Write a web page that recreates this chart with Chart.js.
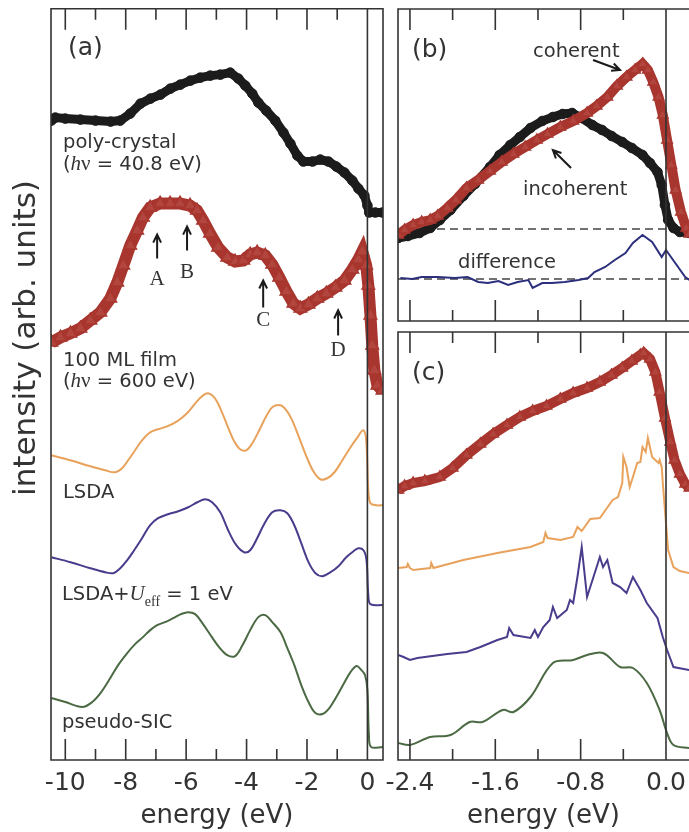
<!DOCTYPE html>
<html>
<head>
<meta charset="utf-8">
<script src="https://cdn.jsdelivr.net/npm/chart.js@4.4.1/dist/chart.umd.min.js"></script>
<style>
  html, body { margin: 0; padding: 0; background: #fff; overflow: hidden; }
  #wrap { position: relative; width: 689px; height: 832px; overflow: hidden; }
  canvas { position: absolute; }
</style>
</head>
<body>
<div id="wrap">
  <canvas id="panelA" width="395" height="832" style="left:0;top:0"></canvas>
  <canvas id="panelB" width="360" height="330" style="left:360px;top:0"></canvas>
  <canvas id="panelC" width="360" height="510" style="left:360px;top:322px"></canvas>
</div>
<script>
// ---- panel (a): valence band, wide range ----
const ticksA = [-10, -8, -6, -4, -2, 0];
const minorA = [-9, -7, -5, -3, -1];

const polyE = [-10.46, -10.33, -10.0, -9.5, -9.0, -8.5, -8.18, -7.85, -7.51, -7.18, -6.85, -6.52, -6.19, -5.86, -5.53, -5.2, -4.87, -4.54, -4.27, -4.04, -3.81, -3.61, -3.35, -3.05, -2.78, -2.55, -2.32, -2.12, -1.82, -1.56, -1.29, -1.03, -0.76, -0.5, -0.3, -0.1, 0.0, 0.06, 0.26, 0.5];
const polyI = [640, 643, 642, 641, 640, 639, 640, 647, 657, 662, 666, 672, 676, 680, 683, 685, 686, 688, 682, 675, 667, 658, 650, 640, 628, 617, 605, 599, 599, 601, 599, 594, 588, 580, 572, 565, 555, 548, 548, 548];

const filmE = [-10.46, -10.16, -9.83, -9.5, -9.17, -8.84, -8.51, -8.28, -8.08, -7.85, -7.62, -7.43, -7.19, -6.86, -6.53, -6.2, -5.87, -5.64, -5.44, -5.21, -4.94, -4.64, -4.38, -4.11, -3.88, -3.65, -3.38, -3.15, -2.92, -2.68, -2.45, -2.22, -1.95, -1.66, -1.36, -1.06, -0.76, -0.5, -0.3, -0.17, -0.04, 0.03, 0.1, 0.16, 0.23, 0.33, 0.5];
const filmI = [418, 423, 427, 432, 440, 448, 462, 478, 495, 515, 530, 543, 553, 557, 557, 557, 555, 550, 540, 527, 513, 503, 499, 500, 506, 508, 505, 496, 483, 469, 457, 452, 456, 462, 467, 473, 480, 491, 501, 509, 495, 475, 445, 415, 390, 375, 370];

const lsdaE = [-10.46, -9.83, -9.17, -8.68, -8.35, -8.12, -7.92, -7.69, -7.46, -7.19, -6.93, -6.63, -6.3, -5.97, -5.67, -5.44, -5.27, -5.07, -4.87, -4.64, -4.41, -4.21, -4.01, -3.81, -3.58, -3.35, -3.15, -2.88, -2.68, -2.49, -2.25, -2.02, -1.79, -1.56, -1.33, -1.09, -0.83, -0.56, -0.33, -0.14, -0.04, 0.03, 0.1, 0.29, 0.52];
const lsdaI = [305, 300, 294, 290, 288, 292, 300, 310, 320, 328, 331, 334, 339, 347, 358, 365, 367, 363, 352, 335, 319, 311, 310, 317, 330, 344, 353, 355, 350, 340, 322, 304, 289, 281, 282, 288, 300, 313, 323, 330, 320, 270, 257, 255, 255];

const ldauE = [-10.46, -9.83, -9.17, -8.68, -8.41, -8.18, -7.95, -7.72, -7.46, -7.19, -6.93, -6.6, -6.26, -5.93, -5.63, -5.37, -5.14, -4.87, -4.61, -4.34, -4.08, -3.88, -3.65, -3.42, -3.15, -2.88, -2.65, -2.42, -2.19, -1.95, -1.72, -1.49, -1.22, -0.96, -0.7, -0.46, -0.3, -0.13, -0.03, 0.03, 0.1, 0.52];
const ldauI = [203, 198, 192, 188, 187, 192, 200, 210, 222, 235, 242, 246, 249, 253, 258, 261, 258, 248, 230, 215, 208, 210, 222, 236, 248, 250, 247, 235, 217, 198, 187, 184, 188, 194, 203, 209, 212, 210, 200, 165, 156, 155];

const sicE = [-10.46, -10.0, -9.44, -9.11, -8.81, -8.51, -8.25, -7.95, -7.69, -7.43, -7.19, -6.96, -6.7, -6.43, -6.17, -5.94, -5.7, -5.44, -5.17, -4.91, -4.64, -4.38, -4.15, -3.88, -3.61, -3.38, -3.15, -2.88, -2.65, -2.42, -2.19, -1.95, -1.72, -1.49, -1.26, -1.03, -0.79, -0.56, -0.36, -0.2, -0.08, 0.0, 0.05, 0.12, 0.52];
const sicI = [62, 58, 53, 58, 68, 82, 95, 107, 116, 123, 130, 135, 138, 142, 146, 148, 146, 136, 124, 113, 105, 104, 114, 130, 143, 145, 138, 128, 112, 95, 75, 58, 47, 46, 52, 63, 76, 88, 94, 90, 85, 70, 25, 13, 13];

// ---- panels (b) and (c): near the Fermi level ----
const ticksBC = [-2.4, -1.6, -0.8, 0.0];
const minorBC = [-2.0, -1.2, -0.4];

const cohE = [-2.51, -2.45, -2.37, -2.29, -2.21, -2.14, -2.05, -1.97, -1.87, -1.76, -1.65, -1.54, -1.43, -1.32, -1.21, -1.11, -0.99, -0.87, -0.74, -0.65, -0.55, -0.46, -0.37, -0.29, -0.22, -0.17, -0.12, -0.07, -0.03, 0.01, 0.05, 0.09, 0.14, 0.19, 0.22];
const cohI = [86, 91, 96, 99, 101, 105, 113, 121, 133, 141, 150, 159, 167, 174, 181, 187, 194, 200, 208, 215, 224, 235, 244, 251, 257, 251, 239, 224, 206, 181, 156, 131, 109, 93, 87];

const incE = [-2.51, -2.42, -2.31, -2.21, -2.12, -2.02, -1.9, -1.79, -1.65, -1.56, -1.46, -1.37, -1.27, -1.16, -1.06, -0.97, -0.88, -0.79, -0.69, -0.6, -0.51, -0.41, -0.32, -0.22, -0.15, -0.08, -0.04, -0.01, 0.02, 0.07, 0.13, 0.22];
const incI = [83, 85, 88, 93, 101, 111, 125, 137, 154, 166, 176, 184, 193, 200, 204, 207, 208, 203, 196, 191, 185, 179, 173, 166, 158, 149, 136, 116, 101, 93, 89, 88];

const diffE = [-2.49, -2.38, -2.29, -2.14, -1.98, -1.86, -1.76, -1.67, -1.57, -1.48, -1.39, -1.29, -1.25, -1.16, -1.07, -0.95, -0.82, -0.73, -0.67, -0.57, -0.48, -0.38, -0.31, -0.22, -0.13, -0.04, 0.0, 0.08, 0.18, 0.22];
const diffI = [43, 42, 44, 44, 43, 44, 39, 38, 40, 36, 39, 41, 33, 38, 38, 39, 41, 43, 49, 54, 61, 68, 78, 86, 79, 64, 71, 59, 44, 41];
const baseLevels = [92, 42];

const coh2E = [-2.51, -2.45, -2.37, -2.26, -2.12, -2.0, -1.87, -1.74, -1.62, -1.49, -1.37, -1.25, -1.12, -0.99, -0.87, -0.74, -0.62, -0.51, -0.41, -0.32, -0.24, -0.21, -0.15, -0.1, -0.06, -0.01, 0.04, 0.08, 0.13, 0.18, 0.22];
const coh2I = [270, 274, 277, 279, 283, 292, 305, 316, 326, 335, 343, 349, 354, 361, 367, 372, 378, 385, 392, 399, 405, 407, 401, 388, 368, 342, 318, 300, 286, 276, 272];

const lsda2E = [-2.51, -2.43, -2.42, -2.4, -2.37, -2.21, -2.2, -2.18, -1.9, -1.58, -1.27, -1.15, -1.13, -1.11, -0.99, -0.87, -0.83, -0.79, -0.71, -0.62, -0.52, -0.5, -0.45, -0.41, -0.4, -0.37, -0.34, -0.31, -0.27, -0.24, -0.22, -0.19, -0.17, -0.13, -0.1, -0.07, -0.06, -0.04, -0.03, -0.01, 0.02, 0.07, 0.13, 0.22];
const lsda2I = [192, 193, 196, 192, 190, 192, 197, 192, 200, 207, 213, 218, 227, 222, 220, 223, 233, 229, 241, 242, 257, 260, 263, 277, 303, 293, 273, 283, 297, 298, 313, 308, 322, 303, 300, 297, 300, 293, 277, 250, 210, 193, 189, 187];

const ldau2E = [-2.51, -2.46, -2.4, -2.33, -2.05, -1.87, -1.74, -1.58, -1.49, -1.47, -1.43, -1.27, -1.23, -1.2, -1.15, -1.09, -1.06, -1.02, -0.93, -0.9, -0.87, -0.83, -0.79, -0.74, -0.68, -0.62, -0.59, -0.55, -0.5, -0.43, -0.37, -0.31, -0.24, -0.18, -0.08, -0.03, 0.01, 0.07, 0.22];
const ldau2I = [105, 103, 100, 102, 106, 108, 113, 120, 123, 132, 125, 122, 130, 123, 133, 140, 153, 142, 150, 160, 157, 183, 213, 163, 183, 203, 193, 200, 177, 173, 167, 183, 170, 157, 142, 123, 110, 93, 90];

const sic2E = [-2.51, -2.4, -2.21, -2.02, -1.84, -1.72, -1.53, -1.43, -1.27, -1.06, -0.87, -0.74, -0.59, -0.43, -0.31, -0.18, -0.06, 0.01, 0.07, 0.22];
const sic2I = [17, 15, 23, 25, 38, 38, 50, 48, 63, 97, 100, 105, 107, 93, 92, 77, 50, 27, 15, 12];

const INK = '#333';
const SANS = '"DejaVu Sans", sans-serif';
const SERIF = '"Liberation Serif", serif';
Chart.defaults.font.family = SANS;

function pts(xs, ys) {
    return xs.map((v, i) => ({x: v, y: ys[i]}));
}

function circles(xs, ys) {
    return {
        data: pts(xs, ys), showLine: true,
        borderColor: '#1c1c1c', borderWidth: 9,
        pointStyle: 'circle', pointRadius: 4.8, pointBorderWidth: 1,
        pointBackgroundColor: '#1c1c1c', pointBorderColor: '#1c1c1c'
    };
}

function triangles(xs, ys, width) {
    return {
        data: pts(xs, ys), showLine: true,
        borderColor: '#a8362f', borderWidth: width,
        pointStyle: 'triangle', pointRadius: width * 0.6, pointBorderWidth: 1.5,
        pointBackgroundColor: '#b2463e', pointBorderColor: '#a8362f'
    };
}

function curve(xs, ys, color, tension) {
    return {
        data: pts(xs, ys), showLine: true, pointRadius: 0,
        borderColor: color, borderWidth: 2, tension: tension
    };
}

// frame, inward ticks, zero line, labels and arrows
function panelPlugin(cfg) {
    return {
        id: 'panel' + cfg.name,
        afterDatasetsDraw(chart) {
            const {ctx, chartArea: a, scales: {x}} = chart;
            ctx.save();
            ctx.strokeStyle = INK;
            ctx.lineWidth = 1.6;
            ctx.beginPath();
            if (cfg.closed) {
                ctx.rect(a.left, a.top, a.right - a.left, a.bottom - a.top);
            } else {
                ctx.moveTo(a.right + 2, a.top);
                ctx.lineTo(a.left, a.top);
                ctx.lineTo(a.left, a.bottom);
                ctx.lineTo(a.right + 2, a.bottom);
            }
            const x0 = x.getPixelForValue(0);
            ctx.moveTo(x0, a.top);
            ctx.lineTo(x0, a.bottom);
            const marks = cfg.major.map(v => [v, 21]).concat(cfg.minor.map(v => [v, 11]));
            marks.forEach(([v, len]) => {
                const px = x.getPixelForValue(v);
                ctx.moveTo(px, a.top);
                ctx.lineTo(px, a.top + len);
                ctx.moveTo(px, a.bottom);
                ctx.lineTo(px, a.bottom - len);
            });
            ctx.stroke();
            ctx.restore();
        },
        afterDraw(chart) {
            const {ctx, scales: {x, y}} = chart;
            ctx.save();
            ctx.fillStyle = INK;
            ctx.textBaseline = 'alphabetic';
            (cfg.texts || []).forEach(t => {
                let cx = t.x;
                t.parts.forEach(p => {
                    ctx.font = p[1];
                    ctx.fillText(p[0], cx, t.y + (p[2] || 0));
                    cx += ctx.measureText(p[0]).width;
                });
            });
            if (cfg.yTitle) {
                ctx.save();
                ctx.translate(cfg.yTitle.x, cfg.yTitle.y);
                ctx.rotate(-Math.PI / 2);
                ctx.font = cfg.yTitle.font;
                ctx.textAlign = 'center';
                ctx.textBaseline = 'middle';
                ctx.fillText(cfg.yTitle.text, 0, 0);
                ctx.restore();
            }
            ctx.strokeStyle = '#1a1a1a';
            ctx.lineWidth = 2;
            (cfg.arrows || []).forEach(ar => {
                const x0 = x.getPixelForValue(ar.from[0]), y0 = y.getPixelForValue(ar.from[1]);
                const x1 = x.getPixelForValue(ar.to[0]), y1 = y.getPixelForValue(ar.to[1]);
                const ang = Math.atan2(y1 - y0, x1 - x0);
                ctx.beginPath();
                ctx.moveTo(x0, y0);
                ctx.lineTo(x1, y1);
                ctx.moveTo(x1 - 9 * Math.cos(ang - 0.45), y1 - 9 * Math.sin(ang - 0.45));
                ctx.lineTo(x1, y1);
                ctx.lineTo(x1 - 9 * Math.cos(ang + 0.45), y1 - 9 * Math.sin(ang + 0.45));
                ctx.stroke();
                if (ar.label) {
                    ctx.font = '21px ' + SERIF;
                    ctx.textAlign = 'center';
                    ctx.textBaseline = 'middle';
                    ctx.fillText(ar.label, x0, y.getPixelForValue(ar.labelAt));
                    ctx.textAlign = 'left';
                    ctx.textBaseline = 'alphabetic';
                }
            });
            ctx.restore();
        }
    };
}

function xAxis(min, max, ticks, fmt, withLabels) {
    return {
        type: 'linear', min: min, max: max, display: withLabels,
        grid: {display: false, drawTicks: false},
        border: {display: false},
        afterBuildTicks: s => { s.ticks = ticks.map(v => ({value: v})); },
        afterFit: s => { s.height = withLabels ? 72 : 0; },
        ticks: {padding: 8, color: INK, font: {size: 25}, autoSkip: false, maxRotation: 0, callback: fmt},
        title: {display: true, text: 'energy (eV)', color: INK, font: {size: 26}, padding: 0}
    };
}

function baseOptions(pad, xScale, yMax) {
    return {
        responsive: false, animation: false, devicePixelRatio: 1, events: [],
        layout: {padding: pad},
        plugins: {legend: {display: false}, tooltip: {enabled: false}},
        scales: {x: xScale, y: {display: false, min: 0, max: yMax}}
    };
}

const f19 = '19.5px ' + SANS;
const hnu = (rest, y) => ({x: 63, y: y, parts: [['(', f19], ['h', 'italic 21px ' + SERIF], ['\u03bd', '21px ' + SERIF], [rest, f19]]});

new Chart(document.getElementById('panelA'), {
    type: 'scatter',
    data: {datasets: [
        circles(polyE, polyI),
        triangles(filmE, filmI, 12),
        curve(lsdaE, lsdaI, '#e8a25c', 0.35),
        curve(ldauE, ldauI, '#4a3c8c', 0.35),
        curve(sicE, sicI, '#4b6a44', 0.35)
    ]},
    options: baseOptions({left: 51, right: 12, top: 8, bottom: 0},
        xAxis(-10.473, 0.516, ticksA, v => String(v), true), 752),
    plugins: [panelPlugin({
        name: 'A', closed: true, major: ticksA, minor: minorA,
        yTitle: {x: 27, y: 338, text: 'intensity (arb. units)', font: '31px ' + SANS},
        texts: [
            {x: 68, y: 55, parts: [['(a)', '25px ' + SANS]]},
            {x: 63, y: 148, parts: [['poly-crystal', f19]]},
            hnu(' = 40.8 eV)', 170),
            {x: 63, y: 366, parts: [['100 ML film', f19]]},
            hnu(' = 600 eV)', 387),
            {x: 63, y: 498, parts: [['LSDA', f19]]},
            {x: 62, y: 600, parts: [['LSDA+', f19], ['U', 'italic 21px ' + SERIF], ['eff', '14px ' + SERIF, 6], [' = 1 eV', f19]]},
            {x: 62, y: 728, parts: [['pseudo-SIC', f19]]}
        ],
        arrows: [
            {from: [-6.96, 502], to: [-6.96, 526], label: 'A', labelAt: 481},
            {from: [-5.97, 510], to: [-5.97, 534], label: 'B', labelAt: 488},
            {from: [-3.45, 453], to: [-3.45, 480], label: 'C', labelAt: 440},
            {from: [-0.97, 425], to: [-0.97, 450], label: 'D', labelAt: 410}
        ]
    })]
});

const xMinBC = -2.512, xMaxBC = 0.2156;

new Chart(document.getElementById('panelB'), {
    type: 'scatter',
    data: {datasets: [
        triangles(cohE, cohI, 10),
        circles(incE, incI),
        curve(diffE, diffI, '#2b2f7c', 0),
        ...baseLevels.map(v => ({
            data: pts([xMinBC, xMaxBC], [v, v]), showLine: true, pointRadius: 0,
            borderColor: '#444', borderWidth: 1.5, borderDash: [8, 5]
        }))
    ]},
    options: baseOptions({left: 38, right: 31, top: 9, bottom: 9},
        xAxis(xMinBC, xMaxBC, ticksBC, v => v.toFixed(1), false), 312),
    plugins: [panelPlugin({
        name: 'B', closed: false, major: ticksBC, minor: minorBC,
        texts: [
            {x: 52, y: 57, parts: [['(b)', '25px ' + SANS]]},
            {x: 173, y: 57, parts: [['coherent', f19]]},
            {x: 163, y: 195, parts: [['incoherent', f19]]},
            {x: 98, y: 268, parts: [['difference', f19]]}
        ],
        arrows: [
            {from: [-0.684, 261], to: [-0.431, 251]},
            {from: [-0.89, 153], to: [-1.06, 171]}
        ]
    })]
});

new Chart(document.getElementById('panelC'), {
    type: 'scatter',
    data: {datasets: [
        triangles(coh2E, coh2I, 10),
        curve(lsda2E, lsda2I, '#e8a25c', 0),
        curve(ldau2E, ldau2I, '#4a3c8c', 0),
        curve(sic2E, sic2I, '#4b6a44', 0.35)
    ]},
    options: baseOptions({left: 38, right: 31, top: 10, bottom: 0},
        xAxis(xMinBC, xMaxBC, ticksBC, v => v.toFixed(1), true), 428),
    plugins: [panelPlugin({
        name: 'C', closed: false, major: ticksBC, minor: minorBC,
        texts: [
            {x: 52, y: 58, parts: [['(c)', '25px ' + SANS]]}
        ]
    })]
});
</script>
</body>
</html>
